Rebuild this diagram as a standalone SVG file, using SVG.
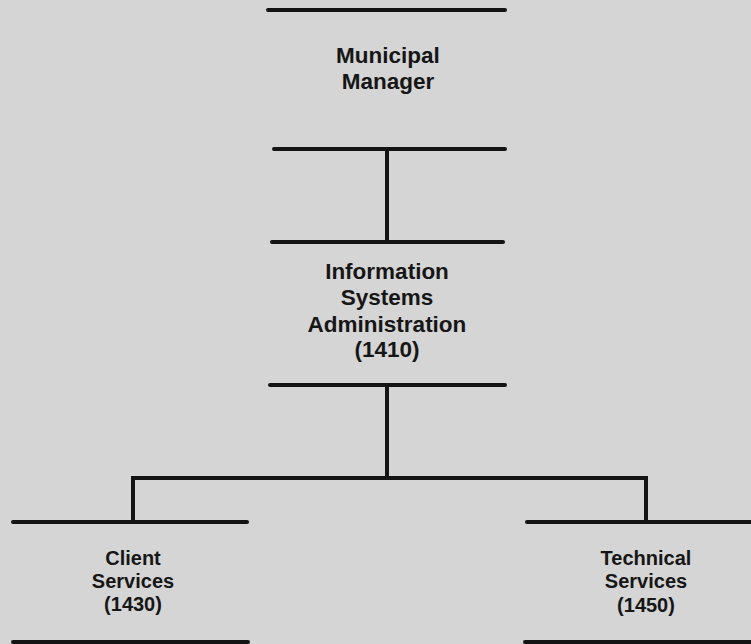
<svg xmlns="http://www.w3.org/2000/svg" width="751" height="644" viewBox="0 0 751 644">
<style>
.bar{stroke:#141414;stroke-width:4;stroke-linecap:round;fill:none}
.conn{stroke:#141414;stroke-width:4;fill:none;stroke-linejoin:miter}
.lbl{font-family:"Liberation Sans",Arial,sans-serif;font-weight:bold;fill:#161616;text-anchor:middle}
.big{font-size:22.5px}
.small{font-size:20px}
</style>
<rect width="751" height="644" fill="#d5d5d5"/>
<g id="connectors">
<line class="conn" x1="387" y1="149" x2="387" y2="242"/>
<line class="conn" x1="387" y1="385" x2="387" y2="478"/>
<polyline class="conn" points="133,522 133,478 646,478 646,522"/>
</g>
<g id="municipal-manager">
<line class="bar" x1="268" y1="10" x2="505" y2="10"/>
<line class="bar" x1="274" y1="149" x2="505" y2="149"/>
<text class="lbl big" x="388" y="63">Municipal</text>
<text class="lbl big" x="388" y="89">Manager</text>
</g>
<g id="information-systems-administration">
<line class="bar" x1="272" y1="242" x2="503" y2="242"/>
<line class="bar" x1="270" y1="385" x2="505" y2="385"/>
<text class="lbl big" x="387" y="279">Information</text>
<text class="lbl big" x="387" y="305">Systems</text>
<text class="lbl big" x="387" y="332">Administration</text>
<text class="lbl big" x="387" y="357">(1410)</text>
</g>
<g id="client-services">
<line class="bar" x1="13" y1="522" x2="247" y2="522"/>
<line class="bar" x1="13" y1="642" x2="248" y2="642"/>
<text class="lbl small" x="133" y="565">Client</text>
<text class="lbl small" x="133" y="588">Services</text>
<text class="lbl small" x="133" y="611">(1430)</text>
</g>
<g id="technical-services">
<line class="bar" x1="527" y1="522" x2="753" y2="522"/>
<line class="bar" x1="525" y1="642" x2="753" y2="642"/>
<text class="lbl small" x="646" y="565">Technical</text>
<text class="lbl small" x="646" y="588">Services</text>
<text class="lbl small" x="646" y="612">(1450)</text>
</g>
</svg>
